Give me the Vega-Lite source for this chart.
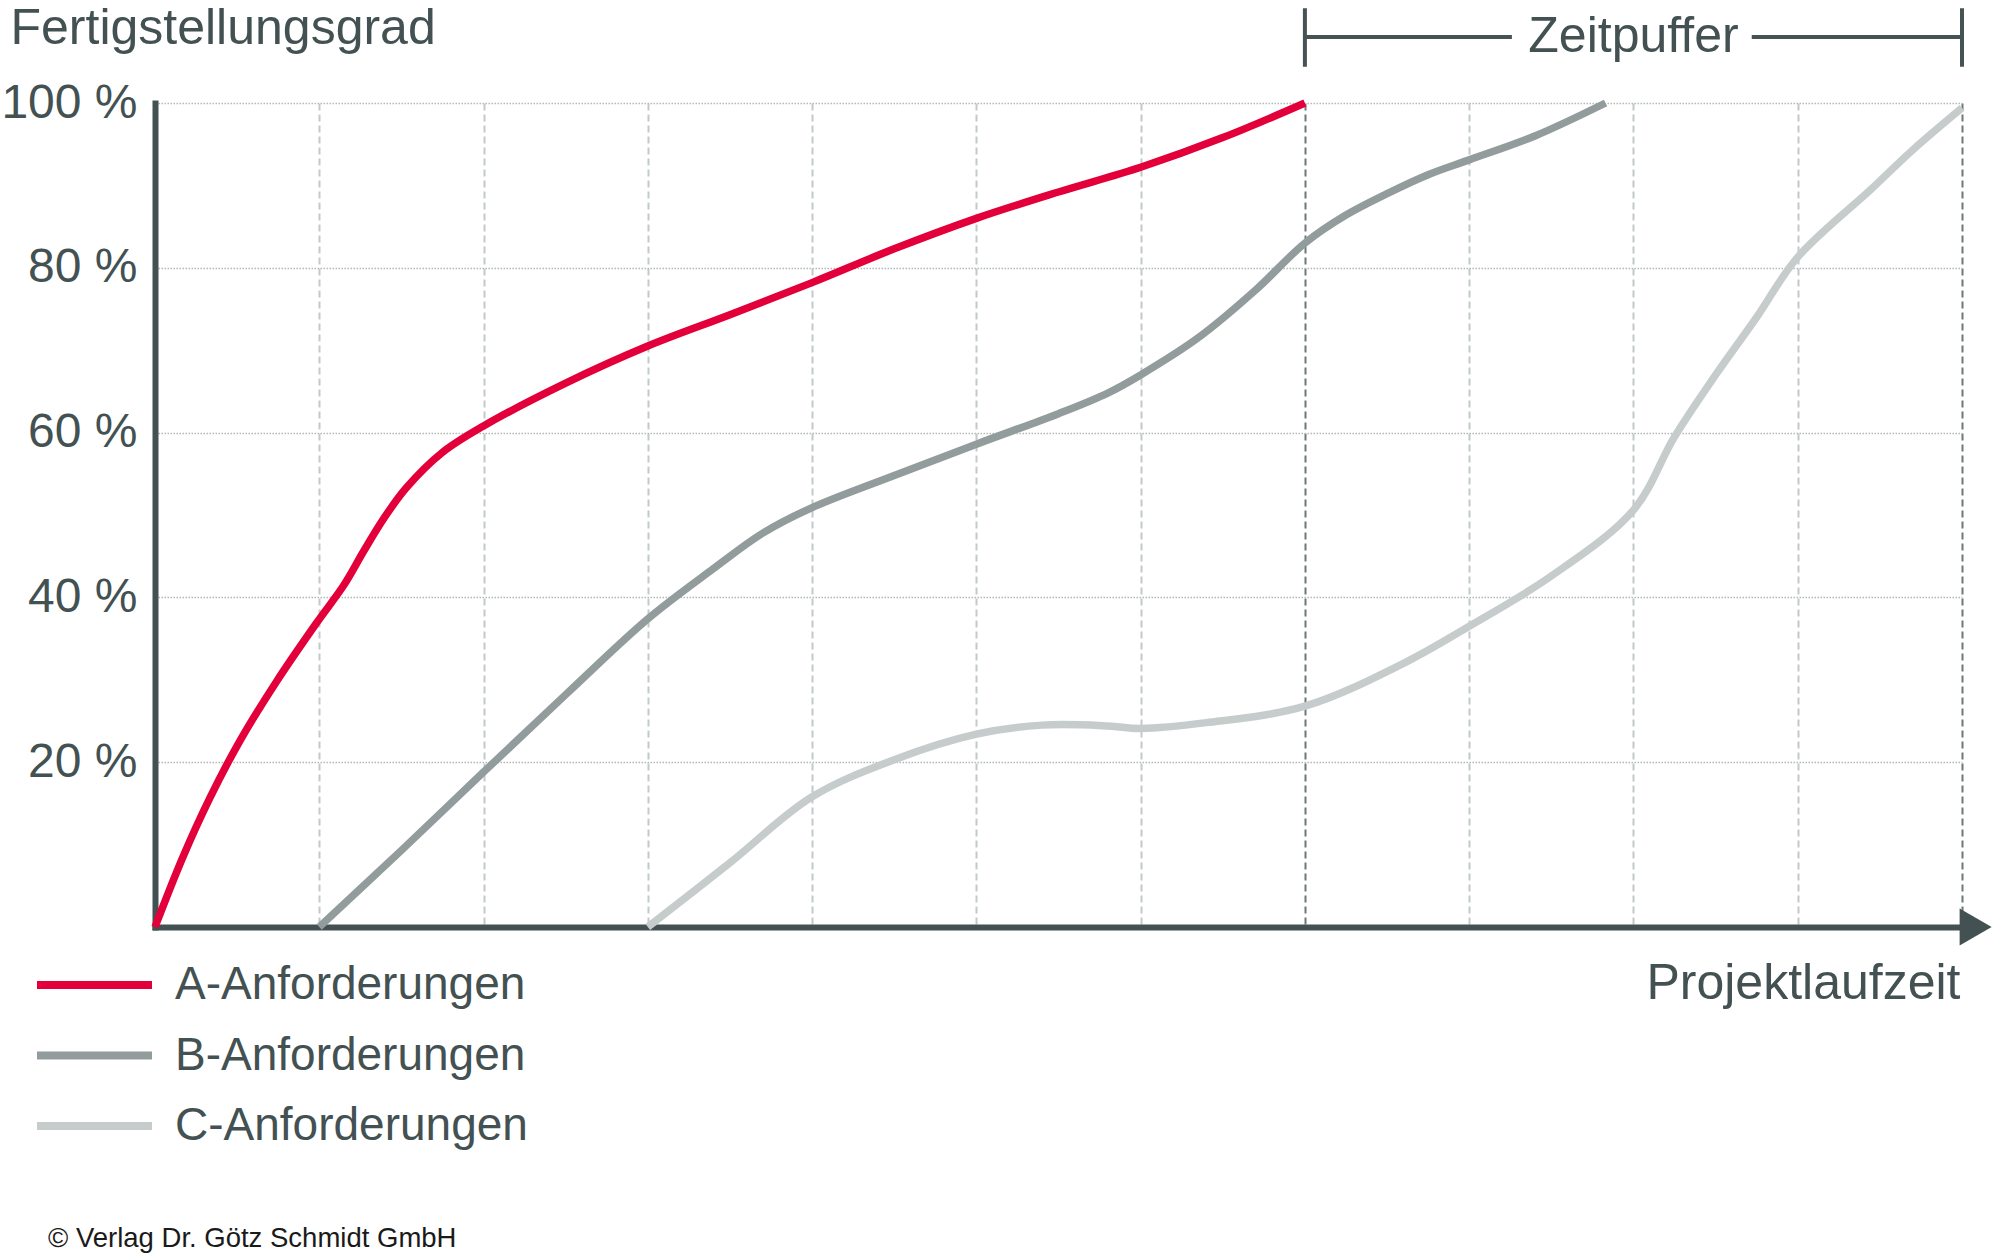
{
  "$schema": "https://vega.github.io/schema/vega-lite/v6.json",
  "width": 1807,
  "height": 824,
  "autosize": {"type": "none"},
  "padding": {"left": 155, "top": 103, "right": 30, "bottom": 328},
  "background": "white",
  "title": {
    "text": "© Verlag Dr. Götz Schmidt GmbH",
    "orient": "bottom",
    "anchor": "start",
    "frame": "group",
    "dx": -107,
    "offset": 76,
    "font": "Liberation Sans",
    "fontSize": 27.5,
    "fontWeight": "normal",
    "color": "#1a1a1a"
  },
  "config": {"view": {"stroke": null}},
  "datasets": {
    "curves": [
      {"series": "A-Anforderungen", "t": 0, "pct": 0},
      {"series": "A-Anforderungen", "t": 0.17, "pct": 8.5},
      {"series": "A-Anforderungen", "t": 0.335, "pct": 15.7},
      {"series": "A-Anforderungen", "t": 0.517, "pct": 22.6},
      {"series": "A-Anforderungen", "t": 0.74, "pct": 29.8},
      {"series": "A-Anforderungen", "t": 0.98, "pct": 36.8},
      {"series": "A-Anforderungen", "t": 1.15, "pct": 41.5},
      {"series": "A-Anforderungen", "t": 1.27, "pct": 45.6},
      {"series": "A-Anforderungen", "t": 1.39, "pct": 49.5},
      {"series": "A-Anforderungen", "t": 1.53, "pct": 53.3},
      {"series": "A-Anforderungen", "t": 1.75, "pct": 57.6},
      {"series": "A-Anforderungen", "t": 2.0, "pct": 60.8},
      {"series": "A-Anforderungen", "t": 2.5, "pct": 66.0},
      {"series": "A-Anforderungen", "t": 3.0, "pct": 70.5},
      {"series": "A-Anforderungen", "t": 3.5, "pct": 74.3},
      {"series": "A-Anforderungen", "t": 4.0, "pct": 78.2},
      {"series": "A-Anforderungen", "t": 4.5, "pct": 82.3},
      {"series": "A-Anforderungen", "t": 5.0, "pct": 86.0},
      {"series": "A-Anforderungen", "t": 5.5, "pct": 89.2},
      {"series": "A-Anforderungen", "t": 6.0, "pct": 92.2},
      {"series": "A-Anforderungen", "t": 6.5, "pct": 95.8},
      {"series": "A-Anforderungen", "t": 7.0, "pct": 100},
      {"series": "B-Anforderungen", "t": 1.0, "pct": 0},
      {"series": "B-Anforderungen", "t": 1.5, "pct": 9.3},
      {"series": "B-Anforderungen", "t": 2.0, "pct": 18.8},
      {"series": "B-Anforderungen", "t": 2.5, "pct": 28.2},
      {"series": "B-Anforderungen", "t": 3.0, "pct": 37.4},
      {"series": "B-Anforderungen", "t": 3.4, "pct": 43.5},
      {"series": "B-Anforderungen", "t": 3.7, "pct": 47.8},
      {"series": "B-Anforderungen", "t": 4.0, "pct": 50.9},
      {"series": "B-Anforderungen", "t": 4.5, "pct": 54.8},
      {"series": "B-Anforderungen", "t": 5.0, "pct": 58.6},
      {"series": "B-Anforderungen", "t": 5.5, "pct": 62.3},
      {"series": "B-Anforderungen", "t": 5.8, "pct": 64.8},
      {"series": "B-Anforderungen", "t": 6.0, "pct": 67.0},
      {"series": "B-Anforderungen", "t": 6.35, "pct": 71.5},
      {"series": "B-Anforderungen", "t": 6.7, "pct": 77.3},
      {"series": "B-Anforderungen", "t": 7.0, "pct": 83.0},
      {"series": "B-Anforderungen", "t": 7.25, "pct": 86.4},
      {"series": "B-Anforderungen", "t": 7.5, "pct": 89.0},
      {"series": "B-Anforderungen", "t": 7.75, "pct": 91.3},
      {"series": "B-Anforderungen", "t": 8.0, "pct": 93.1},
      {"series": "B-Anforderungen", "t": 8.4, "pct": 96.0},
      {"series": "B-Anforderungen", "t": 8.83, "pct": 100},
      {"series": "C-Anforderungen", "t": 3.0, "pct": 0},
      {"series": "C-Anforderungen", "t": 3.5, "pct": 7.8},
      {"series": "C-Anforderungen", "t": 4.0, "pct": 15.8},
      {"series": "C-Anforderungen", "t": 4.5, "pct": 20.3},
      {"series": "C-Anforderungen", "t": 5.0, "pct": 23.4},
      {"series": "C-Anforderungen", "t": 5.4, "pct": 24.5},
      {"series": "C-Anforderungen", "t": 5.8, "pct": 24.4},
      {"series": "C-Anforderungen", "t": 6.0, "pct": 24.1},
      {"series": "C-Anforderungen", "t": 6.4, "pct": 24.8},
      {"series": "C-Anforderungen", "t": 7.0, "pct": 26.8},
      {"series": "C-Anforderungen", "t": 7.6, "pct": 32.0},
      {"series": "C-Anforderungen", "t": 8.0, "pct": 36.5},
      {"series": "C-Anforderungen", "t": 8.5, "pct": 42.6},
      {"series": "C-Anforderungen", "t": 9.0, "pct": 50.6},
      {"series": "C-Anforderungen", "t": 9.25, "pct": 59.5},
      {"series": "C-Anforderungen", "t": 9.5, "pct": 67.0},
      {"series": "C-Anforderungen", "t": 9.75, "pct": 74.0},
      {"series": "C-Anforderungen", "t": 10.0, "pct": 81.3},
      {"series": "C-Anforderungen", "t": 10.45, "pct": 89.6},
      {"series": "C-Anforderungen", "t": 10.7, "pct": 94.3},
      {"series": "C-Anforderungen", "t": 11.0, "pct": 99.4}
    ],
    "arrow": [{"t": 11.083, "pct": 0}],
    "bracket": [
      {"t": 7, "t2": 8.26, "pct": 108, "pct2": 108},
      {"t": 9.72, "t2": 11, "pct": 108, "pct2": 108},
      {"t": 7, "t2": 7, "pct": 104.4, "pct2": 111.5},
      {"t": 11, "t2": 11, "pct": 104.4, "pct2": 111.5}
    ],
    "labels": [{"t": 9, "pct": 106.2, "text": "Zeitpuffer"}]
  },
  "layer": [
    {
      "data": {"name": "curves"},
      "mark": {"type": "line", "interpolate": "catmull-rom", "strokeWidth": 7.5, "strokeCap": "butt"},
      "encoding": {
        "x": {
          "field": "t",
          "type": "quantitative",
          "scale": {"domain": [0, 11], "nice": false, "zero": false},
          "axis": {
            "values": [1, 2, 3, 4, 5, 6, 7, 8, 9, 10, 11],
            "labels": false,
            "ticks": false,
            "domainColor": "#435152",
            "domainWidth": 6,
            "domainCap": "square",
            "grid": true,
            "gridColor": {"condition": {"test": "datum.value == 7 || datum.value == 11", "value": "#6d7878"}, "value": "#c3c9c9"},
            "gridDash": [7, 4],
            "gridWidth": 2,
            "title": "Projektlaufzeit",
            "titleAlign": "right",
            "titleAnchor": null,
            "titleX": 1805,
            "titleY": 71,
            "titleBaseline": "alphabetic",
            "titleFont": "Liberation Sans",
            "titleFontSize": 50,
            "titleFontWeight": "normal",
            "titleColor": "#435152"
          }
        },
        "y": {
          "field": "pct",
          "type": "quantitative",
          "scale": {"domain": [0, 100], "nice": false},
          "axis": {
            "values": [20, 40, 60, 80, 100],
            "labelExpr": "datum.value + ' %'",
            "ticks": false,
            "labelPadding": 18,
            "labelFlush": false,
            "labelFont": "Liberation Sans",
            "labelFontSize": 48,
            "labelColor": "#435152",
            "domainColor": "#435152",
            "domainWidth": 6,
            "domainCap": "square",
            "grid": true,
            "gridColor": "#b3baba",
            "gridDash": [1.5, 1.5],
            "gridWidth": 1.5,
            "title": "Fertigstellungsgrad",
            "titleAngle": 0,
            "titleAlign": "left",
            "titleAnchor": null,
            "titleBaseline": "alphabetic",
            "titleX": -145,
            "titleY": -60,
            "titleFont": "Liberation Sans",
            "titleFontSize": 50,
            "titleFontWeight": "normal",
            "titleColor": "#435152"
          }
        },
        "color": {
          "field": "series",
          "type": "nominal",
          "scale": {
            "domain": ["A-Anforderungen", "B-Anforderungen", "C-Anforderungen"],
            "range": ["#e3003a", "#939c9c", "#c6cccc"]
          },
          "legend": {
            "orient": "none",
            "legendX": -122,
            "legendY": 859,
            "title": null,
            "padding": 0,
            "clipHeight": 46,
            "symbolType": "stroke",
            "symbolSize": 13225,
            "symbolStrokeWidth": 8,
            "symbolOpacity": 1,
            "labelFont": "Liberation Sans",
            "labelFontSize": 46,
            "labelColor": "#435152",
            "labelOffset": 19,
            "labelLimit": 1000,
            "rowPadding": 24.5
          }
        }
      }
    },
    {
      "data": {"name": "arrow"},
      "mark": {"type": "point", "shape": "triangle-right", "size": 1369, "filled": true, "color": "#435152", "opacity": 1},
      "encoding": {
        "x": {"field": "t", "type": "quantitative"},
        "y": {"field": "pct", "type": "quantitative"}
      }
    },
    {
      "data": {"name": "bracket"},
      "mark": {"type": "rule", "color": "#455354", "strokeWidth": 4},
      "encoding": {
        "x": {"field": "t", "type": "quantitative"},
        "x2": {"field": "t2"},
        "y": {"field": "pct", "type": "quantitative"},
        "y2": {"field": "pct2"}
      }
    },
    {
      "data": {"name": "labels"},
      "mark": {"type": "text", "font": "Liberation Sans", "fontSize": 50, "color": "#435152", "align": "center", "baseline": "alphabetic"},
      "encoding": {
        "x": {"field": "t", "type": "quantitative"},
        "y": {"field": "pct", "type": "quantitative"},
        "text": {"field": "text"}
      }
    }
  ]
}
